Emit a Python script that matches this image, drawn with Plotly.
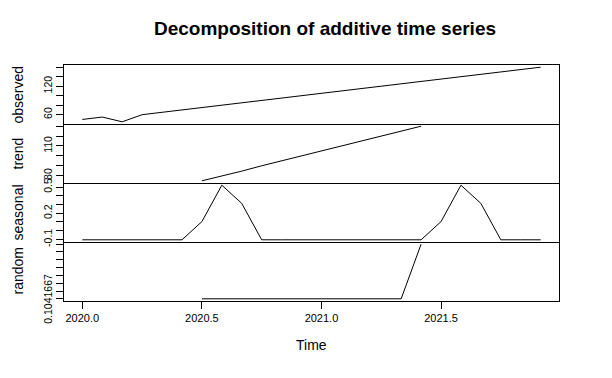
import plotly.graph_objects as go
from plotly.subplots import make_subplots

# ---- data (monthly series, frequency 12, starting 2020.0) ----
time = [2020 + i / 12 for i in range(24)]
observed = [50, 55, 45, 60, 65, 70, 75, 80, 85, 90, 95, 100,
            105, 110, 115, 120, 125, 130, 135, 140, 145, 150, 155, 160]
trend = [None, None, None, None, None, None,
         74.7917, 79.375, 84.5833, 90, 95, 100,
         105, 110, 115, 120, 125, 130,
         None, None, None, None, None, None]
seasonal = [-0.1041667, -0.1041667, -0.1041667, -0.1041667, -0.1041667, -0.1041667,
            0.1041667, 0.5208333, 0.3125, -0.1041667, -0.1041667, -0.1041667,
            -0.1041667, -0.1041667, -0.1041667, -0.1041667, -0.1041667, -0.1041667,
            0.1041667, 0.5208333, 0.3125, -0.1041667, -0.1041667, -0.1041667]
random_c = [None, None, None, None, None, None,
            0.1041667, 0.1041667, 0.1041667, 0.1041667, 0.1041667, 0.1041667,
            0.1041667, 0.1041667, 0.1041667, 0.1041667, 0.1041667, 0.10416677,
            None, None, None, None, None, None]

panel_names = ["observed", "trend", "seasonal", "random"]
x_tickvals = [2020.0, 2020.5, 2021.0, 2021.5]
x_ticktext = ["2020.0", "2020.5", "2021.0", "2021.5"]

obs_ticks = [40, 60, 80, 100, 120, 140, 160]
obs_labels = ["", "60", "", "", "120", "", ""]
trend_ticks = [80, 90, 100, 110, 120, 130]
trend_labels = ["80", "", "", "110", "", ""]
seas_ticks = [-0.1, 0.0, 0.1, 0.2, 0.3, 0.4, 0.5]
seas_labels = ["-0.1", "", "", "0.2", "", "", "0.5"]
rand_ticks = [0.1041667 + k * 1e-8 for k in range(8)]
rand_labels = [""] * 8
rand_label_value = 0.1041667
rand_label_text = "0.1041667"

FONT = "Liberation Sans, Arial, sans-serif"

# page body adds an 8px offset; the figure is sized to fill the window exactly
OFF = 8
W, H = 612 - OFF, 378 - OFF
ML, MR, MT, MB = 64 - OFF, 53, 65 - OFF, 77

series = [observed, trend, seasonal, random_c]
ticks = [(obs_ticks, obs_labels), (trend_ticks, trend_labels),
         (seas_ticks, seas_labels), (rand_ticks, rand_labels)]

fig = make_subplots(rows=4, cols=1, shared_xaxes=True, vertical_spacing=0)

def padded(vals):
    v = [a for a in vals if a is not None]
    lo, hi = min(v), max(v)
    d = hi - lo
    return [lo - 0.04 * d, hi + 0.04 * d]

xr = padded(time)

for i, (vals, (tv, tt)) in enumerate(zip(series, ticks), start=1):
    fig.add_trace(go.Scatter(x=time, y=vals, mode="lines",
                             line=dict(color="black", width=1),
                             connectgaps=False, showlegend=False,
                             hoverinfo="skip"), row=i, col=1)
    fig.update_yaxes(row=i, col=1, range=padded(vals), tickmode="array",
                     tickvals=tv, ticktext=tt, tickangle=-90,
                     ticks="outside", ticklen=7, tickwidth=1, tickcolor="black",
                     showline=True, linecolor="black", linewidth=1, mirror=True,
                     showgrid=False, zeroline=False,
                     tickfont=dict(family=FONT, size=10.5, color="black"))
    fig.update_xaxes(row=i, col=1, range=xr, showline=True, linecolor="black",
                     linewidth=1, mirror=(i == 1), showgrid=False, zeroline=False,
                     tickmode="array", tickvals=x_tickvals,
                     ticktext=x_ticktext if i == 4 else [""] * 4,
                     ticks="outside" if i == 4 else "", ticklen=7,
                     tickwidth=1, tickcolor="black",
                     tickfont=dict(family=FONT, size=11, color="black"))

ph = H - MT - MB
pw = W - ML - MR
annotations = []
centers = [0.875, 0.625, 0.375, 0.125]
for name, c in zip(panel_names, centers):
    annotations.append(dict(text=name, x=(17 - 64) / pw, y=c, xref="paper",
                            yref="paper", showarrow=False, textangle=-90,
                            xanchor="center", yanchor="middle",
                            font=dict(family=FONT, size=14, color="black")))
annotations.append(dict(text="Time", x=0.5, y=(301 - 345) / ph, xref="paper",
                        yref="paper", showarrow=False, xanchor="center",
                        yanchor="middle",
                        font=dict(family=FONT, size=14, color="black")))
# label of the random panel's tick (placed like the other rotated tick labels)
annotations.append(dict(text=rand_label_text, x=(48 - 64) / pw, y=rand_label_value,
                        xref="paper", yref="y4", showarrow=False, textangle=-90,
                        xanchor="center", yanchor="middle",
                        font=dict(family=FONT, size=10.5, color="black")))

fig.update_layout(
    width=W, height=H,
    margin=dict(l=ML, r=MR, t=MT, b=MB),
    paper_bgcolor="white", plot_bgcolor="white",
    title=dict(text="<b>Decomposition of additive time series</b>",
               x=(325 - OFF) / W, xref="container", xanchor="center",
               y=1 - (28 - OFF) / H, yref="container", yanchor="middle",
               font=dict(family=FONT, size=19, color="black")),
    annotations=annotations,
)

fig.write_html("out.html")
